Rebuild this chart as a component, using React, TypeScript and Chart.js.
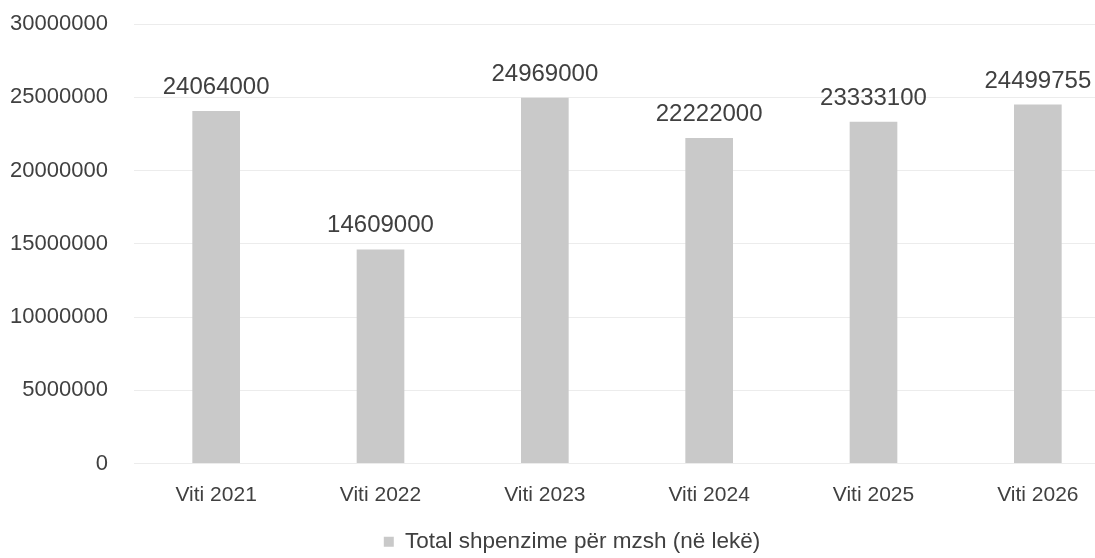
import React, { useEffect, useRef } from "react";
import { Chart, registerables } from "chart.js";

Chart.register(...registerables);

const categories = ["Viti 2021", "Viti 2022", "Viti 2023", "Viti 2024", "Viti 2025", "Viti 2026"];
const values = [24064000, 14609000, 24969000, 22222000, 23333100, 24499755];
const seriesLabel = "Total shpenzime për mzsh (në lekë)";
const yMin = 0;
const yMax = 30000000;
const yStep = 5000000;

const FONT = "'Liberation Sans', Arial, sans-serif";
const TEXT = "#404040";
const BAR = "#c9c9c9";
const LEGEND_SHIFT = 12;

const valueLabels = {
  id: "valueLabels",
  afterLayout(chart: any) {
    if (chart.legend) {
      chart.legend.left += LEGEND_SHIFT;
      chart.legend.right += LEGEND_SHIFT;
    }
  },
  afterDatasetsDraw(chart: any) {
    const ctx = chart.ctx;
    const meta = chart.getDatasetMeta(0);
    ctx.save();
    ctx.font = `24px ${FONT}`;
    ctx.fillStyle = TEXT;
    ctx.textAlign = "center";
    ctx.textBaseline = "alphabetic";
    meta.data.forEach((el: any, i: number) => {
      ctx.fillText(String(values[i]), el.x, el.y - 17);
    });
    ctx.restore();
  },
};

export default function App() {
  const ref = useRef<HTMLCanvasElement>(null);
  useEffect(() => {
    if (!ref.current) return;
    const chart = new Chart(ref.current, {
      type: "bar",
      data: {
        labels: categories,
        datasets: [
          {
            label: seriesLabel,
            data: values,
            backgroundColor: BAR,
            borderWidth: 0,
            barPercentage: 0.58,
            categoryPercentage: 0.5,
          },
        ],
      },
      options: {
        responsive: false,
        animation: false,
        devicePixelRatio: 1,
        layout: { padding: { top: 24, right: 0, bottom: -5, left: 0 } },
        plugins: {
          tooltip: { enabled: false },
          legend: {
            position: "bottom",
            labels: {
              boxWidth: 10,
              boxHeight: 10,
              padding: 4,
              color: TEXT,
              font: { family: FONT, size: 22.5 },
            },
          },
        },
        scales: {
          x: {
            grid: { display: false, drawTicks: false },
            border: { display: false },
            ticks: { color: TEXT, font: { family: FONT, size: 21 }, padding: 19, maxRotation: 0 },
            afterFit: (s: any) => {
              s.height = 63;
            },
          },
          y: {
            min: yMin,
            max: yMax,
            grid: { color: "#ececec", drawTicks: false },
            border: { display: false },
            ticks: {
              stepSize: yStep,
              color: TEXT,
              font: { family: FONT, size: 22 },
              padding: 26,
              callback: (v: any) => String(v),
            },
            afterFit: (s: any) => {
              s.width = 134;
              s.paddingTop = 0;
              s.paddingBottom = 0;
            },
          },
        },
      },
      plugins: [valueLabels],
    });
    return () => chart.destroy();
  }, []);
  return (
    <div style={{ position: "absolute", left: 0, top: 0, width: 1095, height: 558, overflow: "hidden", background: "#fff" }}>
      <canvas ref={ref} width={1120} height={558} style={{ width: 1120, height: 558, display: "block" }} />
    </div>
  );
}
